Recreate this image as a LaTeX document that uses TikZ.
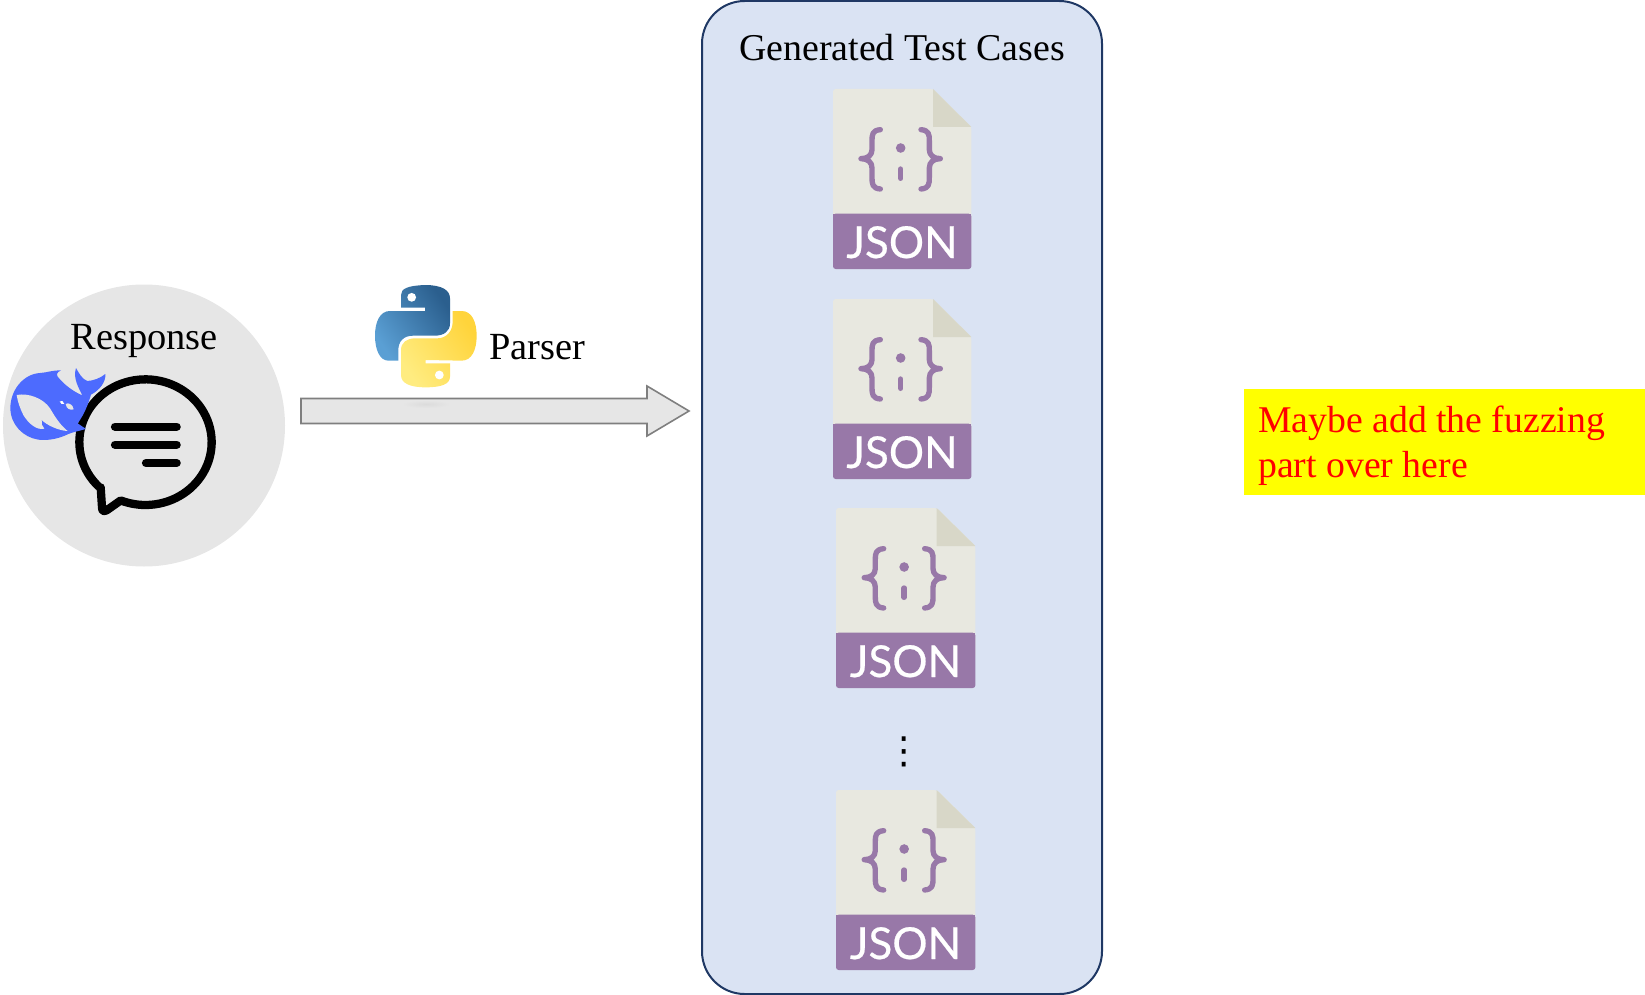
\documentclass[tikz,border=0pt]{standalone}
\usepackage{fontspec}
\setmainfont{Liberation Serif}
\newfontfamily\jsonfont[FakeBold=0.5]{Lato}
\newfontfamily\dotsfont{DejaVu Sans}
\usetikzlibrary{calc}
\definecolor{circlegray}{HTML}{E6E6E6}
\definecolor{panelblue}{HTML}{DAE3F3}
\definecolor{paneledge}{HTML}{1F3864}
\definecolor{arrowedge}{HTML}{7F7F7F}
\definecolor{whaleblue}{HTML}{4D6BFE}
\definecolor{jsonpage}{HTML}{E8E8E0}
\definecolor{jsonfold}{HTML}{D8D7C8}
\definecolor{jsonpurple}{HTML}{9878A8}
\definecolor{notefill}{rgb}{1,1,0}
\definecolor{notetext}{rgb}{1,0,0}
\definecolor{pyblueA}{HTML}{5A9FD4}
\definecolor{pyblueB}{HTML}{2B5F8E}
\definecolor{pyyellowA}{HTML}{FFEC80}
\definecolor{pyyellowB}{HTML}{FFD43B}
\tikzset{
  label text/.style={font=\fontsize{28.8}{33.75}\selectfont,inner sep=0pt,text=black},
  icon stroke/.style={draw=black,line width=6.2pt,line cap=round,line join=round},
  json stroke/.style={draw=jsonpurple,line width=4pt,line cap=round,line join=round},
  block arrow/.style={draw=arrowedge,line width=1.2pt,fill=circlegray,line join=miter},
}
% #1: horizontal scale, #2,#3: top left corner in px, #4: name
\newcommand\jsonicon[4][0.25pt]{%
  \begin{scope}[shift={(#2,#3)},x=#1,y=-0.25pt]
    \fill[jsonpage,rounded corners=2pt] (0,0) -- (300,0) -- (415,114) -- (415,450) -- (0,450) -- cycle;
    \fill[jsonfold] (300,0) -- (300,114) -- (415,114) -- cycle;
    \fill[jsonpurple,rounded corners=2pt] (0,374) -- (415,374) -- (415,540) -- (0,540) -- cycle;
    \fill[jsonpurple] (0,374) rectangle (415,420);
    \draw[json stroke] (142,122) .. controls (118,124) and (117,137) .. (117,155) -- (117,182) .. controls (117,198) and (105,209) .. (84,209) .. controls (105,209) and (117,220) .. (117,237) -- (117,265) .. controls (117,285) and (118,298) .. (142,300);
    \draw[json stroke] (264,122) .. controls (288,124) and (289,137) .. (289,155) -- (289,182) .. controls (289,198) and (301,209) .. (322,209) .. controls (301,209) and (289,220) .. (289,237) -- (289,265) .. controls (289,285) and (288,298) .. (264,300);
    \fill[jsonpurple] (203,177) circle[radius=3.6pt];
    \draw[json stroke] (203,240) -- (203,268);
    \node[name=#4,anchor=base,inner sep=0pt,text=white,font=\jsonfont\fontsize{33}{33}\selectfont] at (207,507) {JSON};
  \end{scope}%
}
\begin{document}
\begin{tikzpicture}[x=0.75pt,y=-0.75pt]
  \useasboundingbox (0,0) rectangle (1645,995);

  % response
  \node[circle,fill=circlegray,minimum size=211.5pt,inner sep=0pt,outer sep=0pt] (response) at (144,425.5) {};
  \node[label text,anchor=base] (responselabel) at (144,349.3) {Response};

  % bubble
  \begin{scope}[shift={(70,370)},x=0.25pt,y=-0.25pt]
    \draw[icon stroke] plot[domain=135:472,samples=90,smooth] ({226.5+198.5*cos(\x)},{216.5+188.5*sin(\x)})
      -- (110,421) .. controls (100,426) and (96,422) .. (96,412) -- (92,352);
    \draw[icon stroke] (135,170) -- (320,170);
    \draw[icon stroke] (135,224) -- (320,224);
    \draw[icon stroke] (228,279) -- (320,279);
  \end{scope}

  % whale
  \begin{scope}[shift={(5,360)},x=0.25pt,y=-0.25pt]
    \fill[whaleblue] (243,207) .. controls (225,212) and (205,216) .. (190,222)
      .. controls (165,235) and (130,243) .. (100,239)
      .. controls (55,232) and (17,195) .. (16,145)
      .. controls (16,90) and (55,42) .. (105,39)
      .. controls (125,38) and (145,30) .. (168,31)
      .. controls (155,37) and (150,45) .. (165,58)
      .. controls (180,75) and (205,95) .. (232,106)
      .. controls (222,85) and (203,55) .. (213,24)
      .. controls (222,40) and (232,58) .. (247,63)
      .. controls (265,62) and (285,55) .. (301,42)
      .. controls (303,65) and (285,90) .. (258,104)
      .. controls (250,130) and (240,160) .. (218,190)
      -- cycle;
    \fill[circlegray] (35,105) .. controls (70,98) and (115,115) .. (135,145)
      .. controls (150,170) and (165,195) .. (188,213)
      .. controls (160,212) and (125,195) .. (110,180)
      .. controls (108,190) and (112,200) .. (118,206)
      .. controls (95,212) and (70,190) .. (55,165)
      .. controls (45,145) and (38,125) .. (35,105) -- cycle;
    \fill[white] (164,124) .. controls (170,120) and (176,124) .. (178,132) .. controls (172,134) and (166,132) .. (164,124) -- cycle;
    \fill[circlegray] (182,132) .. controls (190,126) and (204,134) .. (206,148) .. controls (196,152) and (184,146) .. (182,132) -- cycle;
  \end{scope}

  % panel
  \node[rectangle,draw=paneledge,fill=panelblue,line width=1.5pt,rounded corners=32pt,minimum width=300pt,minimum height=744.75pt,inner sep=0pt,outer sep=0pt] (panel) at (902,497.5) {};

  % parser arrow
  \coordinate (arrowtail) at ($(response.east)+(16,-14.5)$);
  \coordinate (arrowtip) at ($(panel.west)+(-13,-86.5)$);
  \draw[block arrow] ($(arrowtail)+(0,-12.5)$) -- ($(arrowtip)+(-42,-12.5)$) -- ($(arrowtip)+(-42,-25)$) -- (arrowtip) -- ($(arrowtip)+(-42,25)$) -- ($(arrowtip)+(-42,12.5)$) -- ($(arrowtail)+(0,12.5)$) -- cycle;

  % shadow under the python logo
  \shade[inner color=black!14,outer color=circlegray] (426,404) ellipse[x radius=18pt,y radius=3pt];

  % python logo
  \begin{scope}[shift={(360,270)},x=0.25pt,y=-0.25pt]
    \shade[left color=pyblueA,right color=pyblueB,shading angle=125]
      (195,123) -- (195,113) -- (123,113) -- (123,75) .. controls (123,55) and (145,47) .. (195,45)
      .. controls (245,45) and (270,60) .. (270,85) -- (270,160)
      .. controls (270,185) and (250,197) .. (225,197) -- (160,197)
      .. controls (130,197) and (115,215) .. (115,240) -- (115,272) -- (85,272)
      .. controls (60,272) and (45,240) .. (45,197)
      .. controls (45,155) and (60,123) .. (90,123) -- cycle;
    \fill[white] (155,82) circle[radius=3.3pt];
    \shade[left color=pyyellowA,right color=pyyellowB,shading angle=125]
      (197,270) -- (197,280) -- (270,280) -- (270,320) .. controls (270,342) and (245,352) .. (197,352)
      .. controls (150,352) and (123,340) .. (123,315) -- (123,240)
      .. controls (123,218) and (140,205) .. (165,205) -- (232,205)
      .. controls (258,205) and (278,185) .. (278,155) -- (278,123) -- (305,123)
      .. controls (335,123) and (350,155) .. (350,197)
      .. controls (350,240) and (335,272) .. (305,272) -- cycle;
    \fill[white] (238,315) circle[radius=3.3pt];
  \end{scope}
  \node[label text,anchor=base west] (parserlabel) at (489,359.3) {Parser};

  % panel contents
  \node[inner sep=0pt,font=\fontsize{28.4}{33.75}\selectfont,anchor=base] (paneltitle) at (902,61) {Generated Test Cases};
  \jsonicon{833}{89}{jsona}
  \jsonicon{833}{299}{jsonb}
  \jsonicon[0.2518pt]{836}{508}{jsonc}
  \node[inner sep=0pt,font=\dotsfont\fontsize{28}{28}\selectfont] (moredots) at (904.5,752) {⋮};
  \jsonicon[0.2518pt]{836}{790}{jsond}

  % note
  \node[fill=notefill,minimum width=300.75pt,minimum height=79.5pt,inner sep=0pt,outer sep=0pt] (note) at (1444.5,442.3) {};
  \node[text=notetext,font=\fontsize{28.3}{33.75}\selectfont,inner sep=0pt,align=left,anchor=base west] (notelabel) at (1258,477) {Maybe add the fuzzing\\part over here};
\end{tikzpicture}
\end{document}
